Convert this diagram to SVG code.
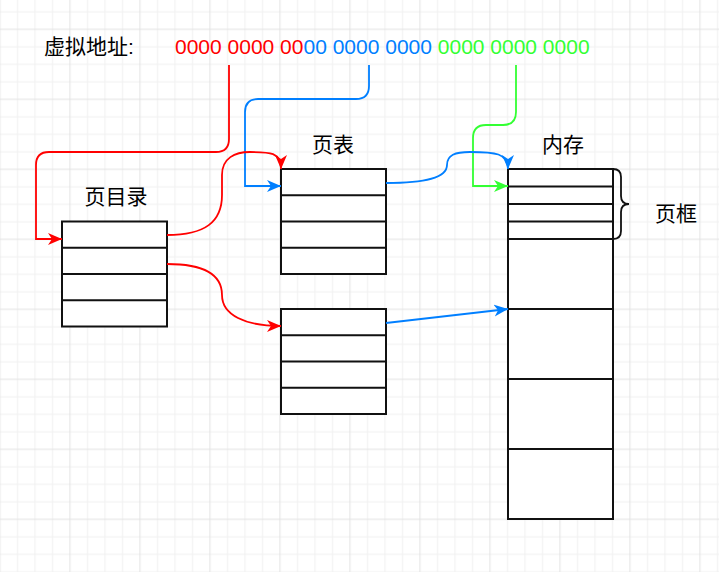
<svg xmlns="http://www.w3.org/2000/svg" width="719" height="572" viewBox="0 0 719 572">
<style>
.box{fill:#fff;stroke:#111;stroke-width:2}
.div{stroke:#111;stroke-width:2}
.lbl{font-family:"Liberation Sans","Noto Sans CJK SC",sans-serif;font-size:21px;fill:#000}
.edge{fill:none;stroke-width:1.8}
.r{stroke:#ff0000}
.b{stroke:#007fff}
.g{stroke:#33ff33}
</style>
<defs>
<pattern id="grid" patternUnits="userSpaceOnUse" x="-8.75" y="20.55" width="70" height="70">
<path d="M26.25,0V70M43.75,0V70M61.25,0V70M0,26.25H70M0,43.75H70M0,61.25H70" stroke="#f0f0f0" stroke-width="1" fill="none"/>
<path d="M8.75,0V70M0,8.75H70" stroke="#e2e2e2" stroke-width="1" fill="none"/>
</pattern>
<marker id="ar" markerUnits="userSpaceOnUse" markerWidth="16" markerHeight="13" refX="14" refY="6" orient="auto"><path d="M0,0L14,6L0,12L4,6Z" fill="#ff0000"/></marker>
<marker id="ab" markerUnits="userSpaceOnUse" markerWidth="16" markerHeight="13" refX="14" refY="6" orient="auto"><path d="M0,0L14,6L0,12L4,6Z" fill="#007fff"/></marker>
<marker id="ag" markerUnits="userSpaceOnUse" markerWidth="16" markerHeight="13" refX="14" refY="6" orient="auto"><path d="M0,0L14,6L0,12L4,6Z" fill="#33ff33"/></marker>
</defs>
<rect width="719" height="572" fill="#fff"/>
<rect width="719" height="572" fill="url(#grid)"/>

<g id="virtual-address">
<text class="lbl" x="44" y="54" font-size="20">虚拟地址:</text>
<text class="lbl" x="175" y="54" font-size="21"><tspan fill="#ff0000">0000 0000 00</tspan><tspan fill="#007fff">00 0000 0000</tspan><tspan fill="#33ff33"> 0000 0000 0000</tspan></text>
</g>

<g id="page-directory">
<text class="lbl" x="116" y="203.5" text-anchor="middle">页目录</text>
<rect class="box" x="62" y="221.5" width="105" height="105"/>
<path class="div" d="M62,247.75H167M62,274H167M62,300.25H167"/>
</g>

<g id="page-table-1">
<text class="lbl" x="333" y="151.5" text-anchor="middle">页表</text>
<rect class="box" x="281" y="169" width="105" height="105"/>
<path class="div" d="M281,195.25H386M281,221.5H386M281,247.75H386"/>
</g>

<g id="page-table-2">
<rect class="box" x="281" y="309" width="105" height="105"/>
<path class="div" d="M281,335.25H386M281,361.5H386M281,387.75H386"/>
</g>

<g id="memory">
<text class="lbl" x="563" y="151.5" text-anchor="middle">内存</text>
<rect class="box" x="508" y="169" width="105" height="350"/>
<path class="div" d="M508,186.5H613M508,204H613M508,221.5H613M508,239H613M508,309H613M508,379H613M508,449H613"/>
</g>

<g id="page-frame-brace">
<path d="M613,169Q621,169 621,177L621,196Q621,204 629,204Q621,204 621,212L621,231Q621,239 613,239" fill="none" stroke="#111" stroke-width="1.8"/>
<text class="lbl" x="676" y="220.5" text-anchor="middle">页框</text>
</g>

<g id="connectors">
<path class="edge r" d="M229,65L229,139Q229,152 216,152L49,152Q36,152 36,165L36,239L62,239" marker-end="url(#ar)"/>
<path class="edge b" d="M369,65L369,86Q369,99 356,99L258,99Q245,99 245,112L245,186L281,186" marker-end="url(#ab)"/>
<path class="edge g" d="M516,65L516,112Q516,125 503,125L486,125Q473,125 473,138L473,186L508,186" marker-end="url(#ag)"/>
<path class="edge r" d="M167,235C205,235 222,222 222,195L222,175C222,158 235,152 250,152C270,152 281,152 281,169" marker-end="url(#ar)"/>
<path class="edge b" d="M386,183C425,183 447,178 447,165C447,155 455,152 470,152C495,152 508,153 508,169" marker-end="url(#ab)"/>
<path class="edge r" d="M167,264C205,264 222,275 222,295C222,315 245,326 281,326" marker-end="url(#ar)"/>
<path class="edge b" d="M386,323L508,309" marker-end="url(#ab)"/>
</g>
</svg>
